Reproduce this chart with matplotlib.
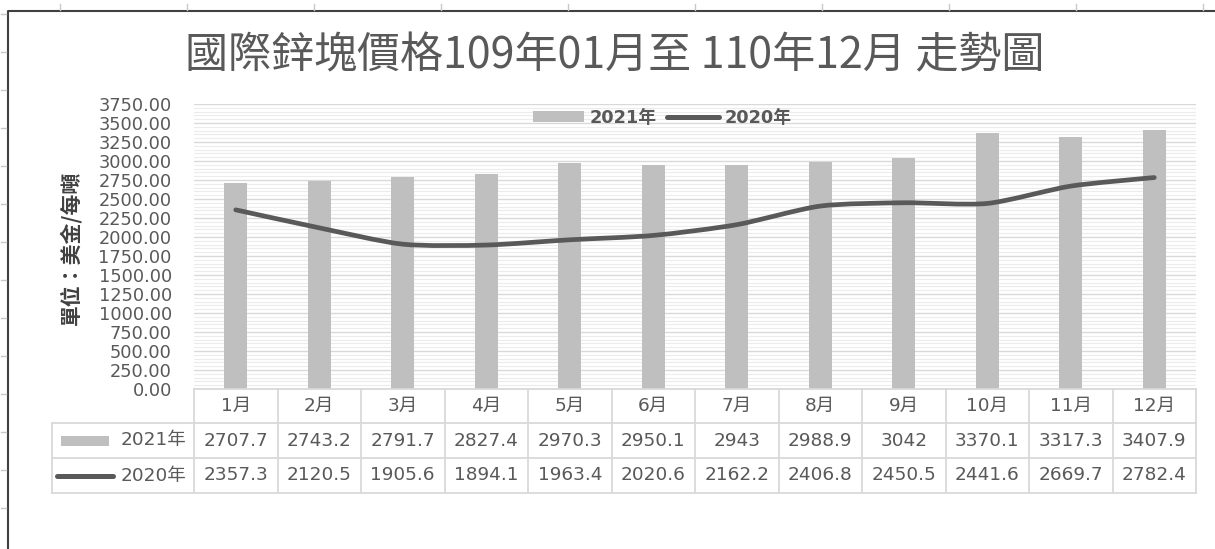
import numpy as np
import matplotlib
matplotlib.use("Agg")
import matplotlib.pyplot as plt
from matplotlib.lines import Line2D
from matplotlib.patches import Patch, Rectangle, PathPatch
from matplotlib.path import Path
from matplotlib.ticker import MultipleLocator
import matplotlib.transforms as mtransforms

plt.rcParams['font.family'] = ['DejaVu Sans', 'Noto Sans CJK TC']

# data
months = ['1月', '2月', '3月', '4月', '5月', '6月',
          '7月', '8月', '9月', '10月', '11月', '12月']
price_2021 = [2707.7, 2743.2, 2791.7, 2827.4, 2970.3, 2950.1,
              2943, 2988.9, 3042, 3370.1, 3317.3, 3407.9]
price_2020 = [2357.3, 2120.5, 1905.6, 1894.1, 1963.4, 2020.6,
              2162.2, 2406.8, 2450.5, 2441.6, 2669.7, 2782.4]
series_names = ['2021年', '2020年']
title = '國際鋅塊價格109年01月至 110年12月 走勢圖'
ylabel = '單位：美金/每噸'

BAR_C = '#bfbfbf'
LINE_C = '#595959'
TXT_C = '#595959'
GRID_C = '#d9d9d9'

W, H = 1215, 549
fig = plt.figure(figsize=(W / 100, H / 100), dpi=100)


def fx(px):
    return px / W


def fy(py):
    return 1 - py / H


# plot area (pixel box of the reference)
left, right, top, bottom = 194, 1196, 104, 389
ax = fig.add_axes([fx(left), fy(bottom), fx(right - left), (bottom - top) / H])

x = np.arange(len(months))
ax.bar(x, price_2021, width=0.275, color=BAR_C, zorder=2)


# smoothed line (bezier through the data points, like Excel's smooth line)
def smooth_path(xs, ys, k=8):
    pts = np.column_stack([xs, ys]).astype(float)
    verts = [pts[0]]
    codes = [Path.MOVETO]
    n = len(pts)
    for i in range(n - 1):
        p0 = pts[i - 1] if i > 0 else pts[i]
        p1 = pts[i]
        p2 = pts[i + 1]
        p3 = pts[i + 2] if i + 2 < n else pts[i + 1]
        verts += [p1 + (p2 - p0) / k, p2 - (p3 - p1) / k, p2]
        codes += [Path.CURVE4] * 3
    return Path(verts, codes)


ax.add_patch(PathPatch(smooth_path(x, price_2020), fill=False,
                       edgecolor=LINE_C, lw=3.4, capstyle='round',
                       joinstyle='round', zorder=3))

ax.set_xlim(-0.5, len(months) - 0.5)
ax.set_ylim(0, 3750)
ax.set_yticks(np.arange(0, 3751, 250))
ax.set_yticklabels([f'{v:.2f}' for v in np.arange(0, 3751, 250)])
ax.yaxis.set_minor_locator(MultipleLocator(50))
ax.set_xticks([])
ax.tick_params(axis='y', which='both', length=0, pad=16,
               labelsize=12.8, labelcolor=TXT_C)
ax.grid(axis='y', which='major', color=GRID_C, lw=1.0)
ax.grid(axis='y', which='minor', color='#ececec', lw=0.8)
ax.set_axisbelow(True)
for s in ax.spines.values():
    s.set_visible(False)

# --- data table under the plot ---
trans = mtransforms.blended_transform_factory(ax.transData, ax.transAxes)
col_px = (right - left) / len(months)
ph = bottom - top
row_edges = [0, -34 / ph, -69 / ph, -104 / ph]
lab_left = -0.5 - (left - 52) / col_px
xr = len(months) - 0.5
line_kw = dict(color=GRID_C, lw=1.3, transform=trans, clip_on=False)

ax.plot([-0.5, xr], [0, 0], **line_kw)
for yy in row_edges[1:]:
    ax.plot([lab_left, xr], [yy, yy], **line_kw)
for i in range(len(months) + 1):
    ax.plot([i - 0.5, i - 0.5], [0, row_edges[-1]], **line_kw)
ax.plot([lab_left, lab_left], [row_edges[1], row_edges[-1]], **line_kw)

txt_kw = dict(transform=trans, ha='center', va='center', fontsize=13.3,
              color=TXT_C, clip_on=False)
for i, m in enumerate(months):
    ax.text(i, (row_edges[0] + row_edges[1]) / 2, m, **txt_kw)
    ax.text(i, (row_edges[1] + row_edges[2]) / 2, f'{price_2021[i]:g}', **txt_kw)
    ax.text(i, (row_edges[2] + row_edges[3]) / 2, f'{price_2020[i]:g}', **txt_kw)

# row labels with legend keys
lab_x = -0.5 - 8 / col_px
for r, name in enumerate(series_names):
    yc = (row_edges[r + 1] + row_edges[r + 2]) / 2
    ax.text(lab_x, yc, name, transform=trans, ha='right', va='center',
            fontsize=13.3, color=TXT_C, clip_on=False)
r0 = (row_edges[1] + row_edges[2]) / 2
ax.add_patch(Rectangle((lab_left + 9 / col_px, r0 - 5 / ph), 48 / col_px, 10 / ph,
                       facecolor=BAR_C, edgecolor='none', transform=trans,
                       clip_on=False))
r1 = (row_edges[2] + row_edges[3]) / 2
ax.plot([lab_left + 5 / col_px, lab_left + 61 / col_px], [r1, r1], color=LINE_C,
        lw=3.6, solid_capstyle='round', transform=trans, clip_on=False)

# legend
handles = [Patch(facecolor=BAR_C, edgecolor='none'),
           Line2D([], [], color=LINE_C, lw=3.6, solid_capstyle='round')]
fig.legend(handles, series_names, loc='center', bbox_to_anchor=(fx(662), fy(118)),
           ncol=2, frameon=False, prop={'weight': 'bold', 'size': 12.8},
           labelcolor=TXT_C, handlelength=2.9, handleheight=0.6,
           handletextpad=0.3, columnspacing=0.6)

# title and y label
fig.text(fx(615), fy(56), title, fontsize=31, color=TXT_C, ha='center',
         va='center', family=['Noto Sans CJK TC', 'DejaVu Sans'])
fig.text(fx(70), fy(248), ylabel, rotation=90, fontsize=15, weight='bold',
         color='#404040', ha='center', va='center',
         family=['Noto Sans CJK TC', 'DejaVu Sans'])

# chart frame and sheet grid marks
fig.add_artist(Line2D([fx(8), fx(8), fx(W)], [fy(H), fy(11), fy(11)],
                      color='#404040', lw=1.5))
for k in range(10):
    px = 60 + 127 * k
    fig.add_artist(Line2D([fx(px), fx(px)], [fy(4), fy(10)], color='#c8c8c8', lw=1))
for k in range(14):
    py = 14 + 38 * k
    fig.add_artist(Line2D([fx(1), fx(6)], [fy(py), fy(py)], color='#c8c8c8', lw=1))

fig.savefig('out.png', dpi=100)
plt.close(fig)
